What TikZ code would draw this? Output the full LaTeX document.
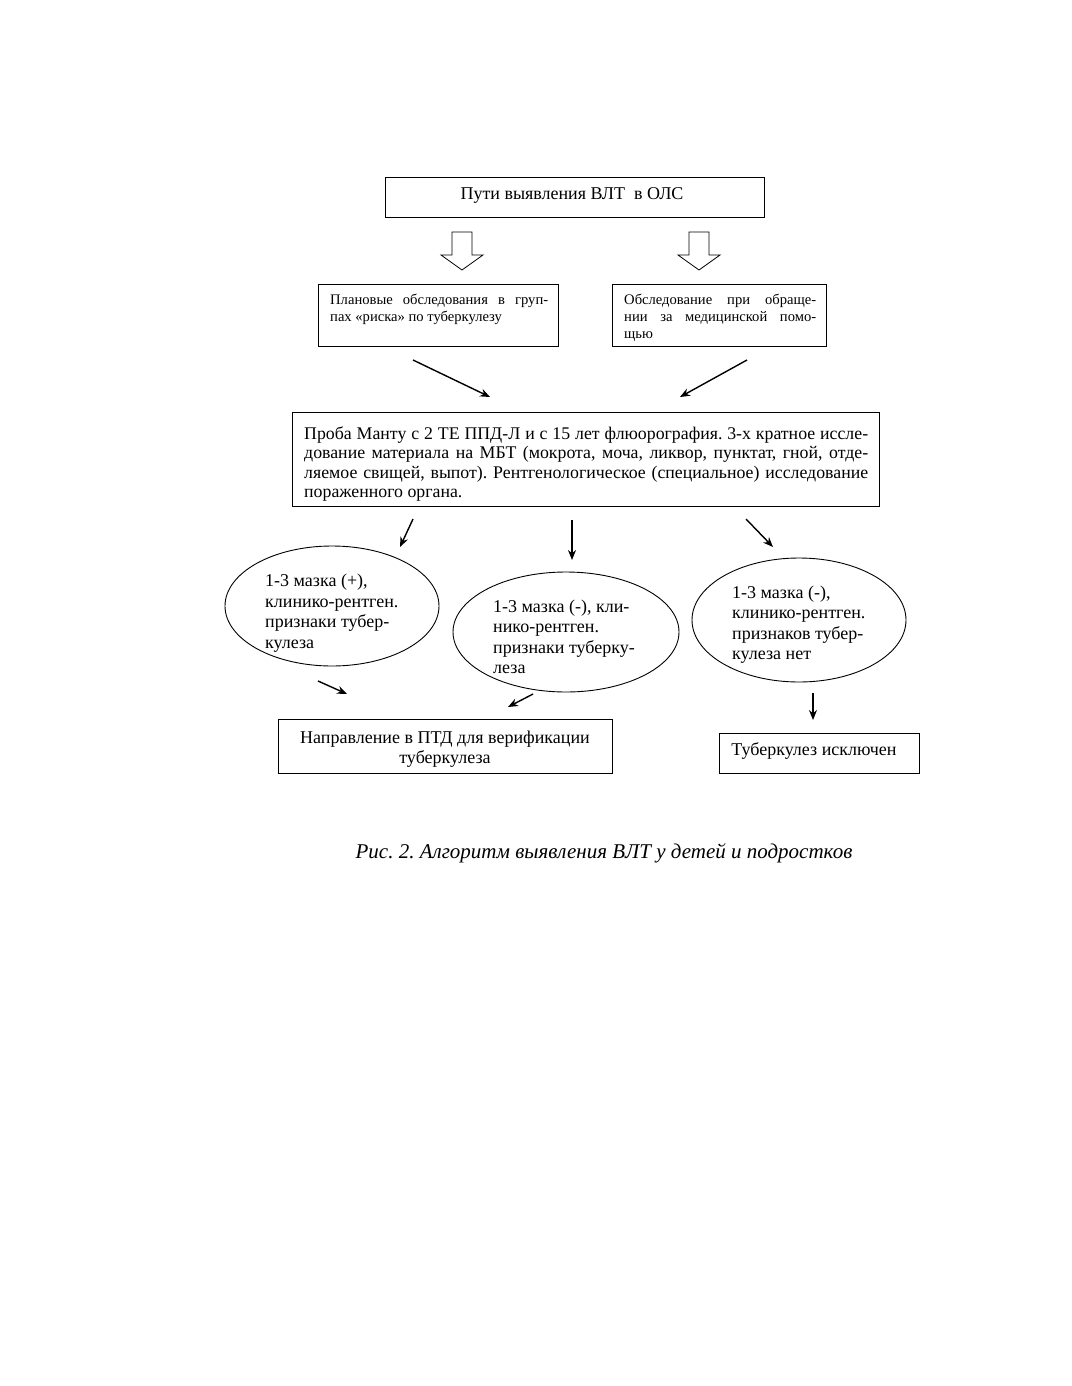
\documentclass[tikz,border=0pt]{standalone}
\usepackage{fontspec}
\setmainfont{Liberation Serif}
\usetikzlibrary{arrows.meta,shapes.geometric,calc}
\frenchspacing
\begin{document}
\begin{tikzpicture}[x=1pt,y=-1pt,
  frame/.style={draw, line width=0.9pt, inner sep=0pt},
  oval/.style={draw, ellipse, line width=0.9pt, inner sep=0pt},
  txt/.style={inner sep=0pt, anchor=north west},
  arr/.style={line width=1.4pt, -{Stealth[length=10pt,width=8pt]}},
  hollow/.style={draw, line width=0.8pt, fill=white, line join=miter}
]
\useasboundingbox (0,0) rectangle (1071,1386);
\fill[white] (0,0) rectangle (1071,1386);

% top box
\node[frame, minimum width=379pt, minimum height=40pt, anchor=north west] (top) at (385,177) {};
\node[inner sep=0pt, font=\fontsize{18}{21}\selectfont] (toptxt) at (572,195) {Пути выявления ВЛТ\ \ в ОЛС};

% hollow arrows
\draw[hollow] (452,232) -- (472,232) -- (472,255) -- (483,255) -- (462,270) -- (441,255) -- (452,255) -- cycle;
\draw[hollow] (689,232) -- (709,232) -- (709,255) -- (720,255) -- (699,270) -- (678,255) -- (689,255) -- cycle;

% second row boxes
\node[frame, minimum width=240pt, minimum height=62pt, anchor=north west] (plan) at (318,284) {};
\node[txt, text width=218pt, align=justify, font=\fontsize{14.6}{17}\selectfont] (plantxt) at (330,294)
  {Плановые обследования в груп-\linebreak пах «риска» по туберкулезу};
\node[frame, minimum width=214pt, minimum height=62pt, anchor=north west] (obr) at (612,284) {};
\node[txt, text width=192pt, align=justify, font=\fontsize{14.6}{17}\selectfont] (obrtxt) at (624,294)
  {Обследование при обраще-\linebreak нии за медицинской помо-\linebreak щью};

% arrows to Manta
\coordinate (a1s) at (413,360); \coordinate (a1e) at (490,397);
\coordinate (a2s) at (747,360); \coordinate (a2e) at (680,397);
\draw[arr] (a1s) -- (a1e);
\draw[arr] (a2s) -- (a2e);

% Manta box
\node[frame, minimum width=587pt, minimum height=94pt, anchor=north west] (manta) at (292,412) {};
\node[txt, text width=564pt, align=justify, font=\fontsize{17.8}{19.3}\selectfont] (mantatxt) at (304,426.5)
  {Проба Манту с 2 ТЕ ППД-Л и с 15 лет флюорография. 3-х кратное иссле-\linebreak дование материала на МБТ (мокрота, моча, ликвор, пунктат, гной, отде-\linebreak ляемое свищей, выпот). Рентгенологическое (специальное) исследование\linebreak пораженного органа.};

% arrows to ellipses
\coordinate (b1s) at (413,519); \coordinate (b1e) at (400,547);
\coordinate (b2s) at (572,520); \coordinate (b2e) at (572,560);
\coordinate (b3s) at (746,519); \coordinate (b3e) at (773,547);
\draw[arr] (b1s) -- (b1e);
\draw[arr] (b2s) -- (b2e);
\draw[arr] (b3s) -- (b3e);

% ellipses
\node[oval, minimum width=214pt, minimum height=120pt] (e1) at (332,606) {};
\node[txt, align=left, font=\fontsize{18}{20.5}\selectfont] (e1txt) at (265,574)
  {1-3 мазка (+),\\клинико-рентген.\\признаки тубер-\\кулеза};
\node[oval, minimum width=226pt, minimum height=120pt] (e2) at (566,632) {};
\node[txt, align=left, font=\fontsize{18}{20.5}\selectfont] (e2txt) at (493,599.5)
  {1-3 мазка (-), кли-\\нико-рентген.\\признаки туберку-\\леза};
\node[oval, minimum width=214pt, minimum height=124pt] (e3) at (799,620) {};
\node[txt, align=left, font=\fontsize{18}{20.5}\selectfont] (e3txt) at (732,585.5)
  {1-3 мазка (-),\\клинико-рентген.\\признаков тубер-\\кулеза нет};

% arrows to results
\coordinate (c1s) at (318,681); \coordinate (c1e) at (347,694);
\coordinate (c2s) at (533,694); \coordinate (c2e) at (508,707);
\coordinate (c3s) at (813,693); \coordinate (c3e) at (813,720);
\draw[arr] (c1s) -- (c1e);
\draw[arr] (c2s) -- (c2e);
\draw[arr] (c3s) -- (c3e);

% result boxes
\node[frame, minimum width=334pt, minimum height=54pt, anchor=north west] (ptd) at (278,719) {};
\node[inner sep=0pt, anchor=north, align=center, font=\fontsize{18}{20.5}\selectfont] (ptdtxt) at (445,730.5)
  {Направление в ПТД для верификации\\туберкулеза};
\node[frame, minimum width=200pt, minimum height=40pt, anchor=north west] (excl) at (719,733) {};
\node[inner sep=0pt, font=\fontsize{18}{21}\selectfont] (excltxt) at (814,751) {Туберкулез исключен};

% caption
\node[inner sep=0pt, font=\fontsize{21}{25}\selectfont\itshape] (cap) at (604,853)
  {Рис. 2. Алгоритм выявления ВЛТ у детей и подростков};
\end{tikzpicture}
\end{document}
